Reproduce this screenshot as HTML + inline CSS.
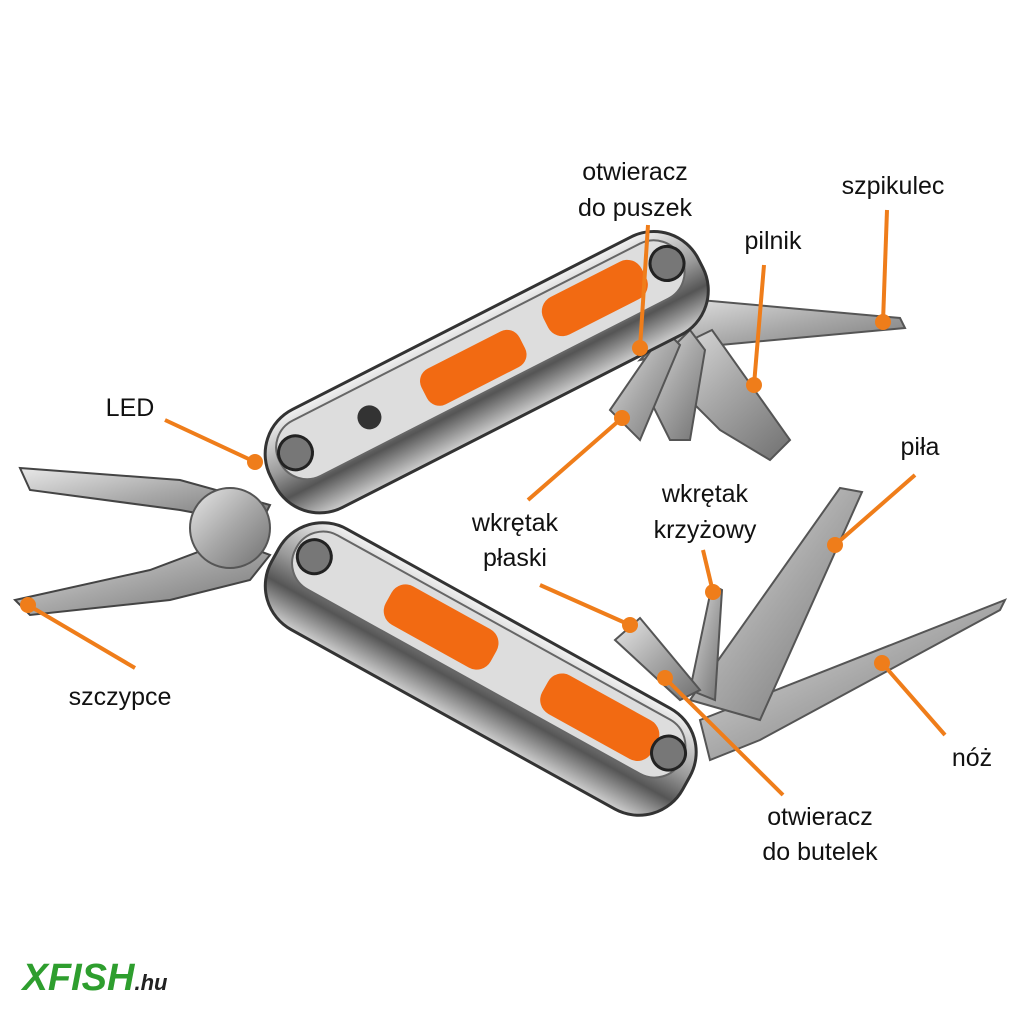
<!DOCTYPE html>
<html><head><meta charset="utf-8"><style>
html,body{margin:0;padding:0;background:#fff;}
svg{display:block}
text{font-family:"Liberation Sans",sans-serif;font-size:25px;fill:#111;text-anchor:middle;font-weight:500}
</style></head><body>
<svg width="1024" height="1024" viewBox="0 0 1024 1024" xmlns="http://www.w3.org/2000/svg">
<defs>
<linearGradient id="m" x1="0" y1="0" x2="0" y2="1">
<stop offset="0" stop-color="#f2f2f2"/><stop offset="0.45" stop-color="#9a9a9a"/><stop offset="0.7" stop-color="#555"/><stop offset="1" stop-color="#cfcfcf"/></linearGradient>
<linearGradient id="b" x1="0" y1="0" x2="1" y2="1">
<stop offset="0" stop-color="#e8e8e8"/><stop offset="0.5" stop-color="#a8a8a8"/><stop offset="1" stop-color="#707070"/></linearGradient>
</defs>
<polygon points="700,720 1005,600 1000,610 760,740 710,760" fill="url(#b)" stroke="#555" stroke-width="2"/>
<polygon points="690,700 840,488 862,492 760,720" fill="url(#b)" stroke="#555" stroke-width="2"/>
<polygon points="690,690 712,585 722,590 715,700" fill="url(#b)" stroke="#555" stroke-width="2"/>
<polygon points="615,640 640,618 700,690 680,700" fill="url(#b)" stroke="#555" stroke-width="2"/>
<polygon points="640,360 700,300 900,318 905,328 720,345" fill="url(#b)" stroke="#555" stroke-width="2"/>
<polygon points="650,360 712,330 790,440 770,460 720,430" fill="url(#b)" stroke="#555" stroke-width="2"/>
<polygon points="640,380 690,330 705,350 690,440 670,440" fill="url(#b)" stroke="#555" stroke-width="2"/>
<polygon points="610,410 665,330 680,345 640,440" fill="url(#b)" stroke="#555" stroke-width="2"/>
<polygon points="20,468 180,480 270,505 260,525 180,510 30,490" fill="url(#b)" stroke="#444" stroke-width="2"/>
<polygon points="15,600 150,570 230,540 270,555 250,580 170,600 30,615" fill="url(#b)" stroke="#444" stroke-width="2"/>
<circle cx="230" cy="528" r="40" fill="url(#b)" stroke="#555" stroke-width="2"/>
<g transform="rotate(-27 480 370)">
<rect x="245" y="320" width="480" height="110" rx="50" fill="url(#m)" stroke="#333" stroke-width="3"/>
<rect x="260" y="330" width="450" height="62" rx="30" fill="#ddd" stroke="#666" stroke-width="2"/>
<rect x="560" y="337" width="110" height="42" rx="16" fill="#f26a12"/>
<rect x="420" y="345" width="110" height="40" rx="14" fill="#f26a12"/>
<circle cx="360" cy="362" r="12" fill="#333"/>
<circle cx="278" cy="360" r="17" fill="#777" stroke="#222" stroke-width="3"/>
<circle cx="695" cy="360" r="17" fill="#777" stroke="#222" stroke-width="3"/>
</g>
<g transform="rotate(29 480 660)">
<rect x="250" y="610" width="470" height="115" rx="50" fill="url(#m)" stroke="#333" stroke-width="3"/>
<rect x="265" y="620" width="440" height="62" rx="30" fill="#ddd" stroke="#666" stroke-width="2"/>
<rect x="370" y="628" width="120" height="44" rx="16" fill="#f26a12"/>
<rect x="550" y="630" width="125" height="44" rx="16" fill="#f26a12"/>
<circle cx="285" cy="650" r="17" fill="#777" stroke="#222" stroke-width="3"/>
<circle cx="690" cy="650" r="17" fill="#777" stroke="#222" stroke-width="3"/>
</g>
<g stroke="#ef7d1a" stroke-width="4" fill="none">
<line x1="648" y1="225" x2="640" y2="348"/>
<line x1="887" y1="210" x2="883" y2="322"/>
<line x1="764" y1="265" x2="754" y2="385"/>
<line x1="165" y1="420" x2="255" y2="462"/>
<line x1="528" y1="500" x2="622" y2="418"/>
<line x1="540" y1="585" x2="630" y2="625"/>
<line x1="915" y1="475" x2="835" y2="545"/>
<line x1="703" y1="550" x2="713" y2="592"/>
<line x1="135" y1="668" x2="28" y2="605"/>
<line x1="945" y1="735" x2="882" y2="663"/>
<line x1="783" y1="795" x2="665" y2="678"/>
</g>
<g fill="#ef7d1a">
<circle cx="640" cy="348" r="8"/><circle cx="883" cy="322" r="8"/><circle cx="754" cy="385" r="8"/>
<circle cx="255" cy="462" r="8"/><circle cx="622" cy="418" r="8"/><circle cx="630" cy="625" r="8"/>
<circle cx="835" cy="545" r="8"/><circle cx="713" cy="592" r="8"/><circle cx="28" cy="605" r="8"/>
<circle cx="882" cy="663" r="8"/><circle cx="665" cy="678" r="8"/>
</g>
<text x="635" y="180">otwieracz</text><text x="635" y="216">do puszek</text>
<text x="893" y="194">szpikulec</text>
<text x="773" y="249">pilnik</text>
<text x="130" y="416">LED</text>
<text x="515" y="531">wkrętak</text><text x="515" y="566">płaski</text>
<text x="920" y="455">piła</text>
<text x="705" y="502">wkrętak</text><text x="705" y="538">krzyżowy</text>
<text x="120" y="705">szczypce</text>
<text x="972" y="766">nóż</text>
<text x="820" y="825">otwieracz</text><text x="820" y="860">do butelek</text>
<text x="95" y="990" style="font-size:38px;font-weight:bold;font-style:italic;fill:#2e9e2e">XFISH<tspan style="font-size:22px;fill:#222">.hu</tspan></text>
</svg>
</body></html>
